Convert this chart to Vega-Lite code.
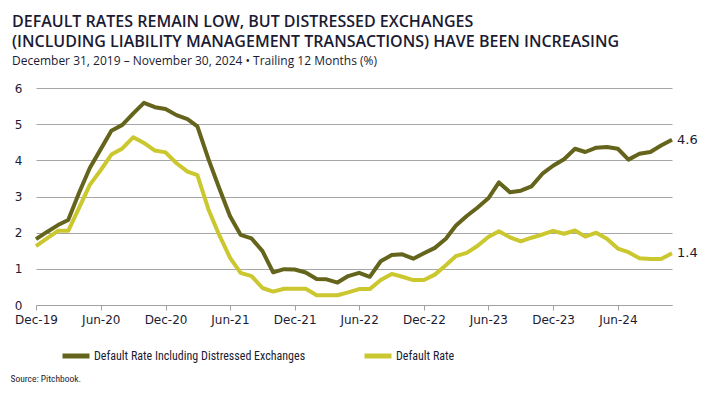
{
  "$schema": "https://vega.github.io/schema/vega-lite/v6.json",
  "width": 636,
  "height": 217,
  "autosize": "none",
  "padding": {"left": 36, "top": 88, "right": 41, "bottom": 90},
  "background": "white",
  "title": {
    "text": ["DEFAULT RATES REMAIN LOW, BUT DISTRESSED EXCHANGES", "(INCLUDING LIABILITY MANAGEMENT TRANSACTIONS) HAVE BEEN INCREASING"],
    "subtitle": "December 31, 2019 – November 30, 2024 • Trailing 12 Months (%)",
    "anchor": "start",
    "frame": "group",
    "dx": -24,
    "offset": 15,
    "font": "Open Sans",
    "fontSize": 16,
    "fontWeight": 600,
    "lineHeight": 20,
    "color": "#1b1b33",
    "subtitleFont": "Open Sans",
    "subtitleFontSize": 12,
    "subtitleColor": "#1b1b33",
    "subtitlePadding": 6
  },
  "config": {
    "view": {"stroke": null},
    "font": "DejaVu Sans"
  },
  "data": {
    "values": [
      {"date": "2019-12-01", "dre": 1.82, "dr": 1.63},
      {"date": "2020-01-01", "dre": 2.02, "dr": 1.84},
      {"date": "2020-02-01", "dre": 2.21, "dr": 2.05},
      {"date": "2020-03-01", "dre": 2.35, "dr": 2.05},
      {"date": "2020-04-01", "dre": 3.11, "dr": 2.69},
      {"date": "2020-05-01", "dre": 3.79, "dr": 3.32},
      {"date": "2020-06-01", "dre": 4.31, "dr": 3.73},
      {"date": "2020-07-01", "dre": 4.82, "dr": 4.16},
      {"date": "2020-08-01", "dre": 4.98, "dr": 4.33},
      {"date": "2020-09-01", "dre": 5.30, "dr": 4.64},
      {"date": "2020-10-01", "dre": 5.59, "dr": 4.48},
      {"date": "2020-11-01", "dre": 5.47, "dr": 4.27},
      {"date": "2020-12-01", "dre": 5.42, "dr": 4.22},
      {"date": "2021-01-01", "dre": 5.25, "dr": 3.92},
      {"date": "2021-02-01", "dre": 5.14, "dr": 3.69},
      {"date": "2021-03-01", "dre": 4.94, "dr": 3.59},
      {"date": "2021-04-01", "dre": 4.04, "dr": 2.65},
      {"date": "2021-05-01", "dre": 3.25, "dr": 1.95},
      {"date": "2021-06-01", "dre": 2.46, "dr": 1.31},
      {"date": "2021-07-01", "dre": 1.94, "dr": 0.89},
      {"date": "2021-08-01", "dre": 1.84, "dr": 0.80},
      {"date": "2021-09-01", "dre": 1.49, "dr": 0.47},
      {"date": "2021-10-01", "dre": 0.90, "dr": 0.37},
      {"date": "2021-11-01", "dre": 0.99, "dr": 0.45},
      {"date": "2021-12-01", "dre": 0.98, "dr": 0.45},
      {"date": "2022-01-01", "dre": 0.90, "dr": 0.45},
      {"date": "2022-02-01", "dre": 0.72, "dr": 0.27},
      {"date": "2022-03-01", "dre": 0.71, "dr": 0.27},
      {"date": "2022-04-01", "dre": 0.62, "dr": 0.27},
      {"date": "2022-05-01", "dre": 0.80, "dr": 0.35},
      {"date": "2022-06-01", "dre": 0.89, "dr": 0.44},
      {"date": "2022-07-01", "dre": 0.78, "dr": 0.44},
      {"date": "2022-08-01", "dre": 1.21, "dr": 0.69},
      {"date": "2022-09-01", "dre": 1.38, "dr": 0.86},
      {"date": "2022-10-01", "dre": 1.40, "dr": 0.78},
      {"date": "2022-11-01", "dre": 1.28, "dr": 0.69},
      {"date": "2022-12-01", "dre": 1.43, "dr": 0.69},
      {"date": "2023-01-01", "dre": 1.58, "dr": 0.84},
      {"date": "2023-02-01", "dre": 1.83, "dr": 1.10},
      {"date": "2023-03-01", "dre": 2.19, "dr": 1.35},
      {"date": "2023-04-01", "dre": 2.46, "dr": 1.44},
      {"date": "2023-05-01", "dre": 2.69, "dr": 1.63},
      {"date": "2023-06-01", "dre": 2.95, "dr": 1.88},
      {"date": "2023-07-01", "dre": 3.39, "dr": 2.04},
      {"date": "2023-08-01", "dre": 3.12, "dr": 1.87},
      {"date": "2023-09-01", "dre": 3.16, "dr": 1.76},
      {"date": "2023-10-01", "dre": 3.28, "dr": 1.86},
      {"date": "2023-11-01", "dre": 3.63, "dr": 1.95},
      {"date": "2023-12-01", "dre": 3.85, "dr": 2.05},
      {"date": "2024-01-01", "dre": 4.03, "dr": 1.97},
      {"date": "2024-02-01", "dre": 4.32, "dr": 2.06},
      {"date": "2024-03-01", "dre": 4.23, "dr": 1.89},
      {"date": "2024-04-01", "dre": 4.35, "dr": 2.00},
      {"date": "2024-05-01", "dre": 4.37, "dr": 1.83},
      {"date": "2024-06-01", "dre": 4.32, "dr": 1.56},
      {"date": "2024-07-01", "dre": 4.02, "dr": 1.46},
      {"date": "2024-08-01", "dre": 4.18, "dr": 1.29},
      {"date": "2024-09-01", "dre": 4.23, "dr": 1.27},
      {"date": "2024-10-01", "dre": 4.41, "dr": 1.27},
      {"date": "2024-11-01", "dre": 4.57, "dr": 1.43}
    ]
  },
  "transform": [
    {"fold": ["dre", "dr"], "as": ["key", "value"]},
    {"calculate": "datum.key == 'dre' ? 'Default Rate Including Distressed Exchanges' : 'Default Rate'", "as": "series"}
  ],
  "encoding": {
    "x": {
      "field": "date",
      "type": "temporal",
      "scale": {
        "type": "utc",
        "nice": false,
        "domain": [
          {"year": 2019, "month": 12, "date": 1, "utc": true},
          {"year": 2024, "month": 11, "date": 1, "utc": true}
        ]
      },
      "axis": {
        "title": "Source: Pitchbook.",
        "titleX": -26,
        "titleY": 76,
        "titleAlign": "left",
        "titleAnchor": null,
        "titleBaseline": "alphabetic",
        "titleFont": "Liberation Sans Narrow, Roboto Condensed, Roboto",
        "titleFontSize": 9.5,
        "titleFontWeight": "normal",
        "titleColor": "#1b1b33",
        "values": [
          {"year": 2019, "month": 12, "date": 1, "utc": true},
          {"year": 2020, "month": 6, "date": 1, "utc": true},
          {"year": 2020, "month": 12, "date": 1, "utc": true},
          {"year": 2021, "month": 6, "date": 1, "utc": true},
          {"year": 2021, "month": 12, "date": 1, "utc": true},
          {"year": 2022, "month": 6, "date": 1, "utc": true},
          {"year": 2022, "month": 12, "date": 1, "utc": true},
          {"year": 2023, "month": 6, "date": 1, "utc": true},
          {"year": 2023, "month": 12, "date": 1, "utc": true},
          {"year": 2024, "month": 6, "date": 1, "utc": true}
        ],
        "format": "%b-%y",
        "grid": false,
        "domainColor": "#a0a0a0",
        "tickColor": "#a0a0a0",
        "tickSize": 5,
        "labelFontSize": 12,
        "labelColor": "#1b1b33",
        "labelPadding": 4,
        "labelFlush": false,
        "labelOverlap": false
      }
    },
    "y": {
      "field": "value",
      "type": "quantitative",
      "scale": {"domain": [0, 6], "nice": false},
      "axis": {
        "title": null,
        "values": [0, 1, 2, 3, 4, 5, 6],
        "labelOverlap": false,
        "domain": false,
        "ticks": false,
        "gridColor": "#a6a6a6",
        "gridWidth": 1,
        "labelFontSize": 12,
        "labelColor": "#1b1b33",
        "labelPadding": 14
      }
    }
  },
  "layer": [
    {
      "mark": {"type": "line", "strokeWidth": 4, "strokeJoin": "round", "strokeCap": "butt"},
      "encoding": {
        "color": {
          "field": "series",
          "type": "nominal",
          "scale": {
            "domain": ["Default Rate Including Distressed Exchanges", "Default Rate"],
            "range": ["#64641c", "#cbc72f"]
          },
          "legend": {
            "title": null,
            "orient": "none",
            "direction": "horizontal",
            "legendX": 24,
            "legendY": 252,
            "symbolType": "stroke",
            "symbolSize": 729,
            "symbolStrokeWidth": 5,
            "labelFont": "Liberation Sans Narrow, Roboto Condensed, Roboto",
            "labelFontSize": 12,
            "labelColor": "#1b1b33",
            "labelLimit": 0,
            "labelOffset": 2,
            "columnPadding": 48
          }
        }
      }
    },
    {
      "transform": [{"filter": "year(datum.date) == 2024 && month(datum.date) == 10"}],
      "mark": {"type": "text", "align": "left", "baseline": "middle", "dx": 5, "fontSize": 13, "color": "#1b1b33"},
      "encoding": {
        "text": {"field": "value", "type": "quantitative", "format": ".1f"}
      }
    }
  ]
}
